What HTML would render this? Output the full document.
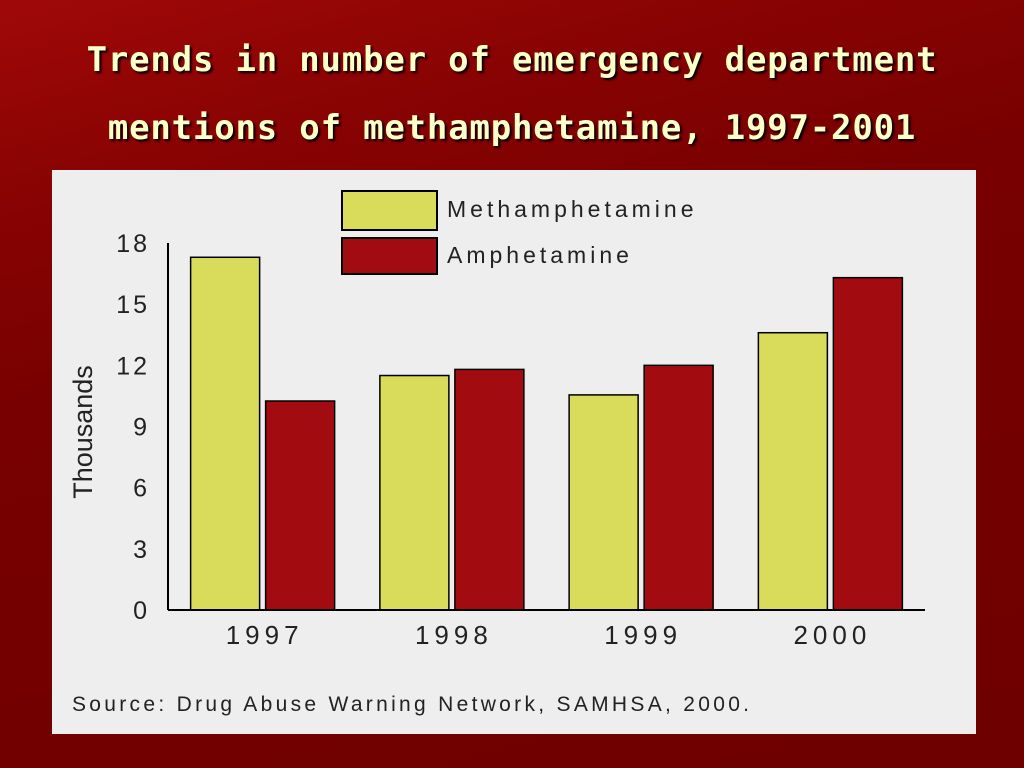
<!DOCTYPE html>
<html><head><meta charset="utf-8"><style>
body{margin:0;width:1024px;height:768px;overflow:hidden;background:#700000;font-family:"Liberation Sans",sans-serif}
#bg{position:absolute;left:0;top:0;width:1024px;height:768px;background:linear-gradient(165deg,#a00808 0%,#880303 20%,#780000 40%,#6e0000 100%)}
.title{position:absolute;left:0;width:1024px;text-align:center;color:#ffffc8;font-weight:bold;font-size:34px;font-family:"DejaVu Sans Mono","Liberation Mono",monospace;text-shadow:2px 2px 2px #000;letter-spacing:0.8px}
</style></head><body>
<div id="bg"></div>
<div class="title" style="top:40px">Trends in number of emergency department</div>
<div class="title" style="top:108px">mentions of methamphetamine, 1997-2001</div>
<svg style="position:absolute;left:0;top:0" width="1024" height="768">
<rect x="52" y="170" width="924" height="564" fill="#eeeeee"/>
<g id="plot"></g>
<rect x="342" y="191" width="95" height="39" fill="#d8dc5a" stroke="#000" stroke-width="2"/>
<text x="447" y="217" font-size="23" letter-spacing="4" fill="#222">Methamphetamine</text>
<rect x="342" y="238" width="95" height="36" fill="#a20c10" stroke="#000" stroke-width="2"/>
<text x="447" y="263" font-size="23" letter-spacing="4" fill="#222">Amphetamine</text>
<text transform="translate(92,432) rotate(-90)" text-anchor="middle" font-size="27" fill="#222">Thousands</text>
<text x="72" y="711" font-size="21" letter-spacing="3.3" fill="#222">Source: Drug Abuse Warning Network, SAMHSA, 2000.</text>
</svg>
<script>
const categories=["1997","1998","1999","2000"];
const methValues=[17.3,11.5,10.55,13.6];
const amphValues=[10.25,11.8,12.0,16.3];
const yTicks=[0,3,6,9,12,15,18];
const NS="http://www.w3.org/2000/svg";
const g=document.getElementById("plot");
const x0=168,x1=925,yBase=610,yTop=243,yMax=18;
const y=v=>yBase-(v/yMax)*(yBase-yTop);
const band=(x1-x0)/categories.length;
const cx=i=>x0+band*(i+0.5);
function mk(t,a){const e=document.createElementNS(NS,t);for(const k in a)e.setAttribute(k,a[k]);g.appendChild(e);return e;}
yTicks.forEach(v=>{
 const t=mk("text",{x:150,y:y(v)+9,"text-anchor":"end","font-size":25,"letter-spacing":3,fill:"#222"});
 t.textContent=v;
 
 
});
categories.forEach((c,i)=>{
 const bm=mk("rect",{x:cx(i)-72,y:y(methValues[i]),width:69,height:yBase-y(methValues[i]),fill:"#d8dc5a",stroke:"#000","stroke-width":1.5});
 
 
 const ba=mk("rect",{x:cx(i)+3,y:y(amphValues[i]),width:69,height:yBase-y(amphValues[i]),fill:"#a20c10",stroke:"#000","stroke-width":1.5});
 
 
 const t=mk("text",{x:cx(i)+2,y:644,"text-anchor":"middle","font-size":26,"letter-spacing":5,fill:"#222"});
 t.textContent=c;
 
 
});
const ax=mk("line",{x1:x0,y1:yBase,x2:x1,y2:yBase,stroke:"#000","stroke-width":2});


const ay=mk("line",{x1:x0,y1:yTop,x2:x0,y2:yBase,stroke:"#000","stroke-width":2});


</script>
</body></html>
